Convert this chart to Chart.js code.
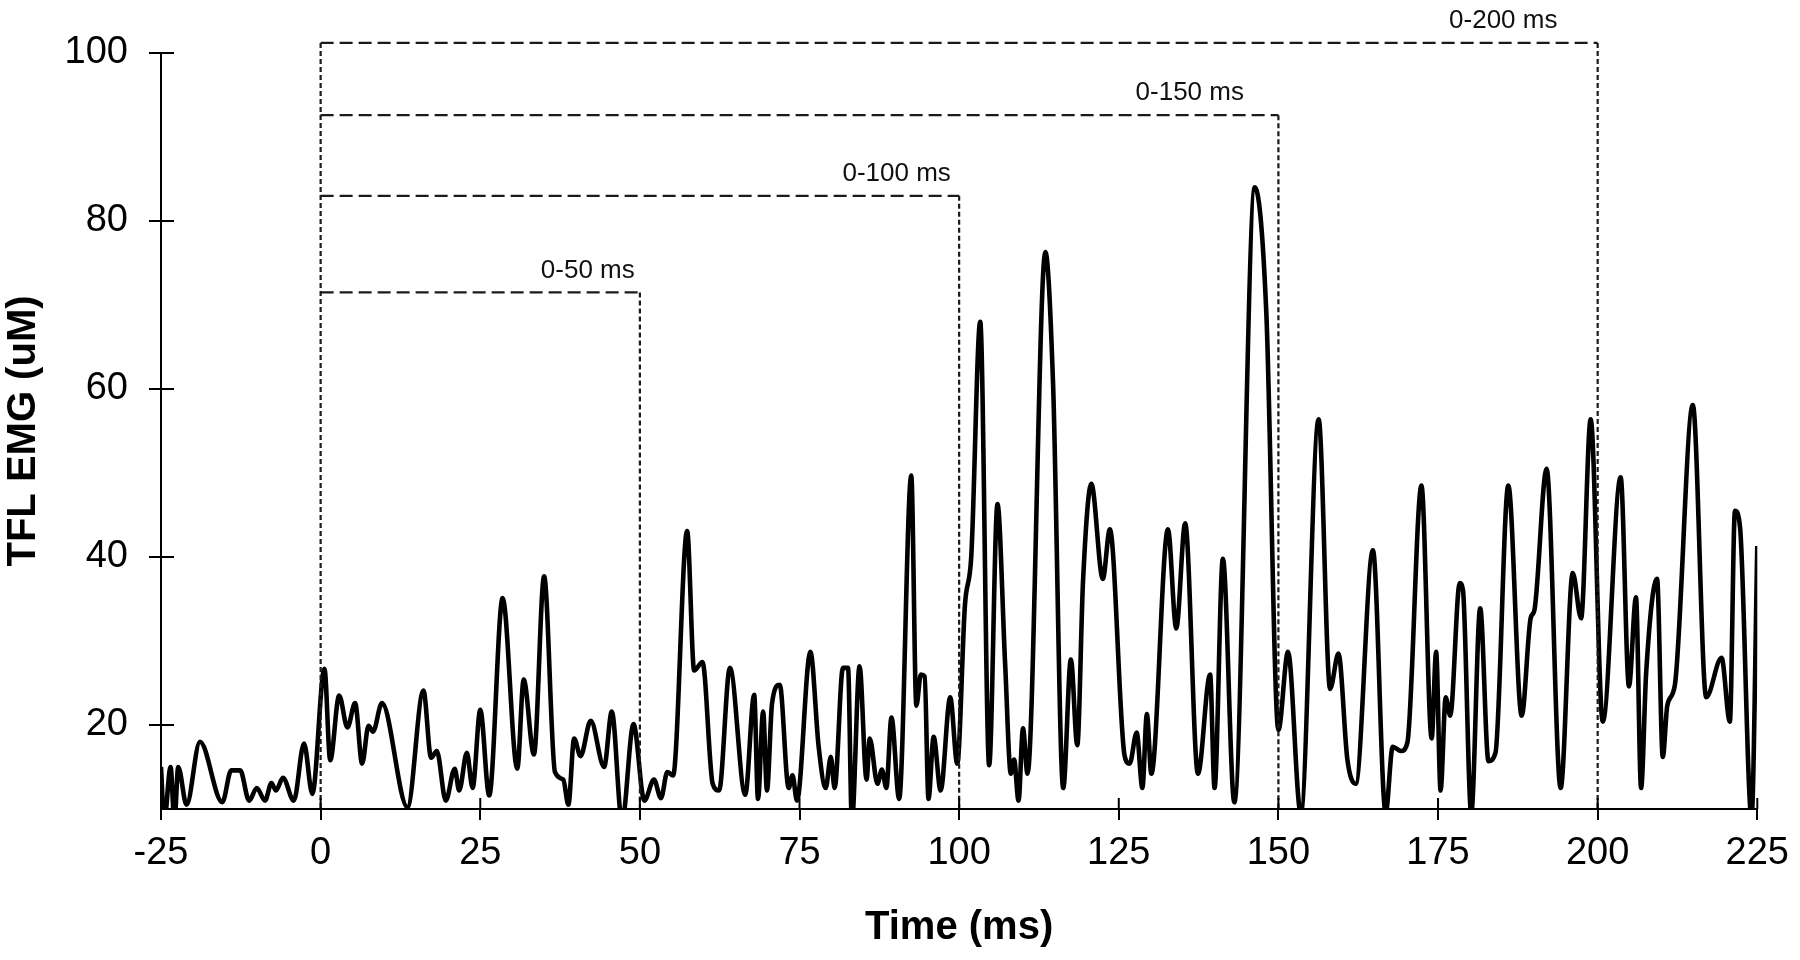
<!DOCTYPE html>
<html>
<head>
<meta charset="utf-8">
<script src="https://cdn.jsdelivr.net/npm/chart.js@4.4.1/dist/chart.umd.min.js"></script>
<style>
  html, body { margin: 0; padding: 0; background: #ffffff; }
  #wrap { width: 1800px; height: 960px; }
</style>
</head>
<body>
<div id="wrap"><canvas id="c" width="1800" height="960"></canvas></div>
<script>
// ---- data (time in ms, TFL EMG amplitude) ----
const timeMs = [
  -25.0, -24.5, -23.5, -22.9, -22.3, -21.0, -18.9, -15.4, -14.0, -12.6,
  -11.2, -10.0, -8.7, -7.7, -7.0, -5.9, -4.2, -2.6, -1.3, 0.6,
  1.5, 2.9, 4.2, 5.4, 6.5, 7.5, 8.2, 9.6, 13.6, 16.1,
  17.3, 18.2, 19.6, 21.0, 21.7, 22.9, 23.8, 25.0, 26.4, 28.5,
  30.8, 31.8, 33.4, 35.0, 36.7, 38.0, 38.8, 39.7, 40.7, 42.3,
  44.4, 45.6, 47.2, 49.0, 50.7, 52.2, 53.3, 54.3, 55.2, 57.4,
  58.5, 59.8, 61.4, 62.4, 64.1, 66.5, 67.9, 68.5, 69.3, 69.9,
  70.7, 71.9, 73.3, 73.9, 74.6, 76.7, 78.0, 79.1, 79.9, 80.5,
  81.8, 82.6, 83.2, 84.4, 85.5, 86.0, 87.2, 87.9, 88.6, 89.4,
  90.6, 92.5, 93.3, 94.0, 94.6, 95.2, 96.0, 97.1, 98.6, 99.7,
  100.9, 101.9, 103.3, 104.7, 106.0, 107.2, 108.1, 108.6, 109.3, 110.0,
  110.7, 113.5, 114.7, 116.3, 117.5, 118.5, 119.4, 120.7, 122.5, 123.6,
  125.9, 126.7, 127.8, 128.7, 129.4, 130.1, 132.7, 134.0, 135.4, 137.4,
  139.3, 140.0, 141.3, 143.1, 146.3, 148.1, 150.0, 151.5, 153.5, 156.3,
  158.1, 159.4, 160.8, 162.1, 164.8, 166.8, 167.9, 169.2, 170.2, 172.4,
  174.0, 174.7, 175.4, 176.2, 176.9, 178.4, 178.9, 180.2, 181.6, 182.9,
  184.0, 186.0, 188.1, 189.5, 190.1, 192.0, 194.2, 196.1, 197.4, 198.9,
  200.8, 203.6, 204.9, 206.0, 206.8, 207.6, 209.3, 210.2, 210.9, 212.1,
  214.9, 217.0, 219.4, 220.7, 221.5, 222.3, 224.1, 225.0
];
const emgValues = [
  15.0, 8.5, 15.0, 8.5, 15.0, 10.5, 18.0, 10.8, 14.6, 14.6,
  11.0, 12.5, 11.0, 13.1, 12.2, 13.7, 11.0, 17.8, 11.8, 26.7,
  15.8, 23.5, 19.7, 22.6, 15.4, 19.9, 19.2, 22.6, 10.2, 24.1,
  16.1, 16.9, 11.0, 14.8, 12.2, 16.7, 12.5, 21.8, 11.6, 35.1,
  14.8, 25.4, 16.5, 37.7, 14.4, 13.5, 10.5, 18.4, 16.3, 20.5,
  15.0, 21.6, 8.5, 20.1, 11.0, 13.5, 11.3, 14.4, 14.0, 43.1,
  26.5, 27.5, 13.0, 12.2, 26.8, 11.7, 23.6, 11.2, 21.6, 12.2,
  22.6, 24.8, 12.5, 14.0, 11.0, 28.7, 17.4, 12.5, 16.2, 12.5,
  26.8, 26.8, 8.5, 27.0, 13.5, 18.4, 13.0, 14.7, 12.5, 20.9,
  11.2, 49.7, 22.3, 26.0, 25.8, 11.2, 18.6, 12.2, 23.3, 15.4,
  34.2, 40.1, 68.0, 15.2, 46.3, 27.3, 14.2, 15.9, 11.0, 19.6,
  14.2, 76.3, 60.8, 12.5, 27.8, 17.6, 37.1, 48.7, 37.4, 43.3,
  16.4, 15.4, 19.1, 12.5, 21.3, 14.2, 43.3, 31.5, 44.0, 14.2,
  26.0, 12.5, 39.8, 10.8, 84.0, 69.2, 19.4, 28.7, 9.5, 56.4,
  24.3, 28.5, 15.9, 13.0, 40.8, 9.5, 17.4, 16.9, 17.9, 48.5,
  18.4, 28.7, 12.2, 23.3, 21.1, 36.9, 36.1, 9.5, 33.9, 15.7,
  16.7, 48.5, 21.1, 32.7, 33.7, 50.5, 12.5, 38.1, 32.7, 56.4,
  20.4, 49.5, 24.6, 35.2, 12.5, 26.3, 37.4, 16.2, 22.3, 24.8,
  58.1, 23.3, 28.0, 20.4, 45.5, 43.5, 9.0, 41.3
];
const xTickValues = [-25, 0, 25, 50, 75, 100, 125, 150, 175, 200, 225];
const yTickValues = [20, 40, 60, 80, 100];

// analysis windows (dashed brackets)
const windowStart = 0;
const windowEnds = [50, 100, 150, 200];
const windowLevels = [71.5, 83.0, 92.6, 101.2];
const windowLabels = ['0-50 ms', '0-100 ms', '0-150 ms', '0-200 ms'];
const windowLabelEnds = [49.2, 98.7, 144.6, 193.7];

const FONT = '"Liberation Sans", Arial, Helvetica, sans-serif';

function seg(ctx, x1, y1, x2, y2) {
  ctx.beginPath(); ctx.moveTo(x1, y1); ctx.lineTo(x2, y2); ctx.stroke();
}

const bracketPlugin = {
  id: 'brackets',
  afterDatasetsDraw(chart) {
    const { ctx, scales: { x, y } } = chart;
    const x0 = x.getPixelForValue(windowStart);
    const yb = y.getPixelForValue(y.min);
    ctx.save();
    ctx.strokeStyle = '#1a1a1a';
    ctx.lineWidth = 2.2;
    ctx.setLineDash([5, 3]);
    seg(ctx, x0, y.getPixelForValue(Math.max(...windowLevels)), x0, yb);
    windowEnds.forEach((e, i) => {
      const xe = x.getPixelForValue(e);
      const yl = y.getPixelForValue(windowLevels[i]);
      ctx.setLineDash([13, 6]);
      seg(ctx, x0, yl, xe, yl);
      ctx.setLineDash([5, 3]);
      seg(ctx, xe, yl, xe, yb);
      ctx.setLineDash([]);
      ctx.fillStyle = '#111';
      ctx.font = '26px ' + FONT;
      ctx.textAlign = 'right';
      ctx.textBaseline = 'middle';
      ctx.fillText(windowLabels[i], x.getPixelForValue(windowLabelEnds[i]), yl - 22);
    });
    ctx.restore();
  }
};

const innerTickPlugin = {
  id: 'innerTicks',
  afterDraw(chart) {
    const { ctx, scales: { x, y }, chartArea } = chart;
    ctx.save();
    ctx.strokeStyle = '#000';
    ctx.lineWidth = 2;
    x.ticks.forEach(t => {
      const px = x.getPixelForValue(t.value);
      seg(ctx, px, chartArea.bottom, px, chartArea.bottom - 11);
    });
    y.ticks.forEach(t => {
      const py = y.getPixelForValue(t.value);
      seg(ctx, chartArea.left, py, chartArea.left + 13, py);
    });
    ctx.restore();
  }
};

new Chart(document.getElementById('c'), {
  type: 'line',
  data: {
    datasets: [{
      data: timeMs.map((t, i) => ({ x: t, y: emgValues[i] })),
      borderColor: '#000',
      borderWidth: 4.6,
      pointRadius: 0,
      fill: false,
      cubicInterpolationMode: 'monotone'
    }]
  },
  options: {
    responsive: false,
    animation: false,
    devicePixelRatio: 1,
    layout: { padding: { top: 53, right: 40, bottom: 0, left: 0 } },
    plugins: { legend: { display: false }, tooltip: { enabled: false } },
    scales: {
      x: {
        type: 'linear', min: -25, max: 225,
        afterBuildTicks: s => { s.ticks = xTickValues.map(v => ({ value: v })); },
        afterFit: s => { s.height = 151; },
        grid: { drawOnChartArea: false, drawTicks: true, tickLength: 11, color: '#000', lineWidth: 2 },
        border: { display: true, color: '#000', width: 2 },
        ticks: { color: '#000', font: { family: FONT, size: 38 }, padding: 11, maxRotation: 0, autoSkip: false },
        title: { display: true, text: 'Time (ms)', color: '#000', font: { family: FONT, size: 40, weight: 'bold' }, padding: { top: 0, bottom: 8 } }
      },
      y: {
        type: 'linear', min: 10, max: 100,
        afterBuildTicks: s => { s.ticks = yTickValues.map(v => ({ value: v })); },
        afterFit: s => { s.width = 161; },
        grid: { drawOnChartArea: false, drawTicks: true, tickLength: 12, color: '#000', lineWidth: 2 },
        border: { display: true, color: '#000', width: 2 },
        ticks: { color: '#000', font: { family: FONT, size: 38 }, padding: 21 },
        title: { display: true, text: 'TFL EMG (uM)', color: '#000', font: { family: FONT, size: 40, weight: 'bold' }, padding: { top: 0, bottom: 0 } }
      }
    }
  },
  plugins: [bracketPlugin, innerTickPlugin]
});
</script>
</body>
</html>
